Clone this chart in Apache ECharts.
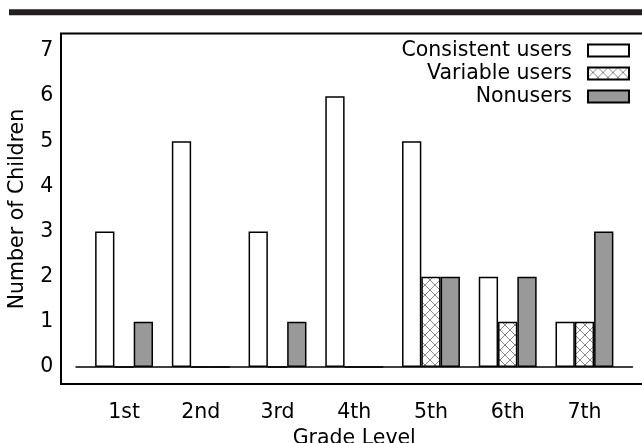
<!DOCTYPE html>
<html><head><meta charset="utf-8">
<script src="https://cdn.jsdelivr.net/npm/echarts@6/dist/echarts.min.js"></script>
<style>html,body{margin:0;padding:0;background:#fff}#c{width:642px;height:443px}</style>
</head><body><div id="c"></div>
<script>
const categories = ['1st','2nd','3rd','4th','5th','6th','7th'];
const seriesNames = ['Consistent users','Variable users','Nonusers'];
const consistentUsers = [3,5,3,6,5,2,1];
const variableUsers = [0,0,0,0,2,1,1];
const nonusers = [1,0,1,0,2,2,3];
const yMin = 0, yMax = 7, yStep = 1;

function hatch(){
  const c = document.createElement('canvas'); c.width = 10; c.height = 10;
  const g = c.getContext('2d');
  g.fillStyle = '#fff'; g.fillRect(0,0,10,10);
  g.strokeStyle = '#8a8a8a'; g.lineWidth = 1;
  g.beginPath(); g.moveTo(0,0); g.lineTo(10,10); g.moveTo(10,0); g.lineTo(0,10); g.stroke();
  return c;
}
const FONT = 'DejaVu Sans';
const FS = 20.5;
const chart = echarts.init(document.getElementById('c'), null, {renderer:'canvas'});
const border = {borderColor:'#000', borderWidth:1.5};
chart.setOption({
  animation:false,
  textStyle:{fontFamily:FONT, color:'#000'},
  graphic:[
    {type:'rect', shape:{x:9, y:9.3, width:640, height:6}, style:{fill:'#231f20'}, silent:true},
    {type:'rect', shape:{x:61, y:33.5, width:620, height:350.5}, style:{fill:'none', stroke:'#000', lineWidth:2}, silent:true}
  ],
  legend:{
    orient:'vertical', right:12, top:40, align:'right', padding:0,
    itemWidth:41, itemHeight:12, itemGap:2, icon:'rect',
    textStyle:{fontFamily:FONT, fontSize:FS, color:'#000', lineHeight:20, padding:[0,11,0,0]},
    data:seriesNames
  },
  grid:[
    {left:85.7, right:19.2, top:51, bottom:76, outerBoundsMode:'none', containLabel:false},
    {left:76, right:9.5, top:51, bottom:76, outerBoundsMode:'none', containLabel:false}
  ],
  xAxis:[
    {type:'category', gridIndex:0, data:categories,
     axisLine:{show:false}, axisTick:{show:false},
     axisLabel:{fontSize:FS, color:'#000', fontFamily:FONT, margin:35},
     name:'Grade Level', nameLocation:'middle', nameGap:59,
     nameTextStyle:{fontSize:FS, color:'#000', fontFamily:FONT}},
    {type:'value', gridIndex:1, min:0, max:1,
     axisLine:{show:true, onZero:false, lineStyle:{color:'#000', width:1.5}},
     axisTick:{show:false}, axisLabel:{show:false}, splitLine:{show:false}}
  ],
  yAxis:[
    {type:'value', gridIndex:0, min:yMin, max:yMax, interval:yStep,
     axisLine:{show:false}, axisTick:{show:false}, splitLine:{show:false},
     axisLabel:{fontSize:FS, color:'#000', fontFamily:FONT, margin:32.4},
     name:'Number of Children', nameLocation:'middle', nameGap:57.4, nameRotate:90,
     nameTextStyle:{fontSize:FS, color:'#000', fontFamily:FONT}},
    {type:'value', gridIndex:1, min:0, max:1, show:false}
  ],
  series:[
    {name:seriesNames[0], type:'bar', data:consistentUsers, barWidth:19.3, barGap:'0%',
     itemStyle:Object.assign({color:'#fff'}, border)},
    {name:seriesNames[1], type:'bar', data:variableUsers, barWidth:19.3, barGap:'0%',
     itemStyle:Object.assign({color:{image:hatch(), repeat:'repeat'}}, border)},
    {name:seriesNames[2], type:'bar', data:nonusers, barWidth:19.3, barGap:'0%',
     itemStyle:Object.assign({color:'#999999'}, border)}
  ]
});
</script></body></html>
